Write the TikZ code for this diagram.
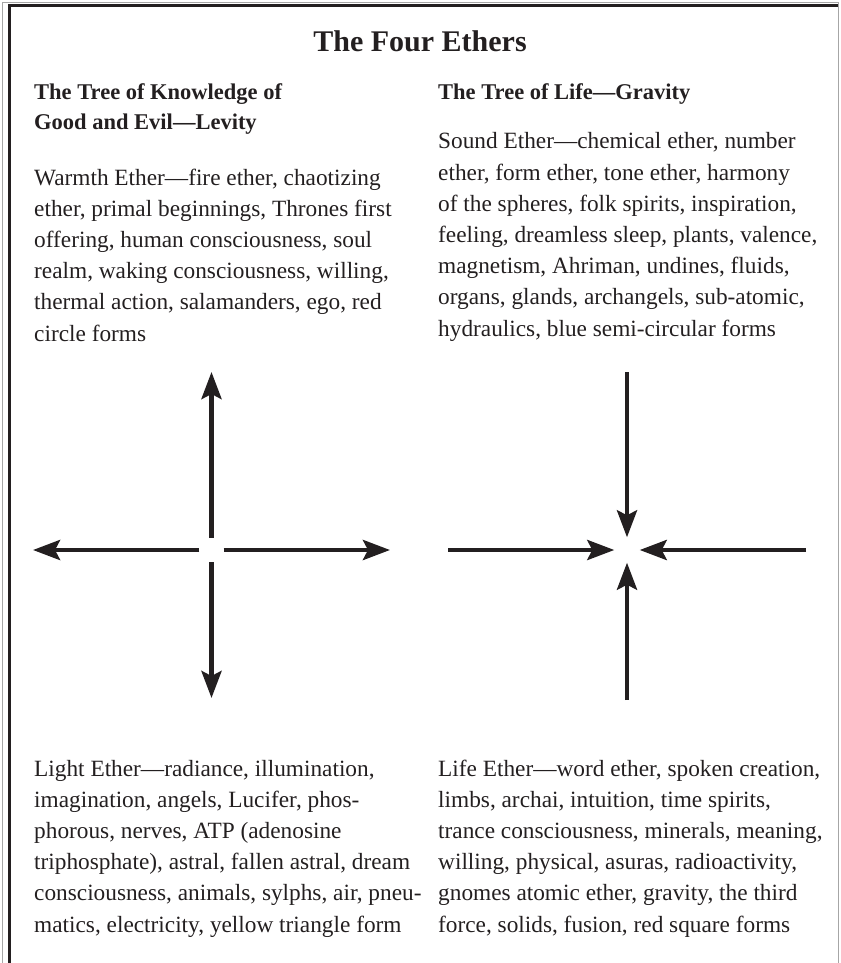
\documentclass[tikz,border=0pt]{standalone}
\usepackage{fontspec}
\setmainfont{Liberation Serif}
\usetikzlibrary{arrows.meta,positioning}
\definecolor{ink}{RGB}{35,31,32}

\begin{document}
\begin{tikzpicture}[x=1pt, y=-1pt,
  body/.style={anchor=base west, align=left, inner sep=0pt, text=ink,
    font=\fontsize{23.3}{31.2}\selectfont},
  head/.style={anchor=base west, align=left, inner sep=0pt, text=ink,
    font=\fontsize{22.5}{30}\selectfont\bfseries},
  hub/.style={inner sep=0pt, minimum size=24pt},
  ray/.style={draw=ink, line width=4.5pt,
    -{Stealth[length=27pt, width=20pt, inset=5pt]}}]

\useasboundingbox (0,0) rectangle (840,963);

% frame
\draw[gray!70, line width=0.8pt] (2,963) -- (2,2.5) -- (838,2.5) -- (838,963);
\draw[ink, line width=3pt] (9,963) -- (9,6) -- (838,6);

\node[anchor=base, inner sep=0pt, text=ink, font=\fontsize{30}{36}\selectfont\bfseries]
  (title) at (420,52) {The Four Ethers};

% multi-line nodes: base = baseline of the last line
\node[head] (levity)  at (34,130)  {The Tree of Knowledge of\\Good and Evil---Levity};
\node[head] (gravity) at (438,100) {The Tree of Life---Gravity};

\node[body] (warmth) at (34,341) {Warmth Ether---fire ether, chaotizing\\
  ether, primal beginnings, Thrones first\\
  offering, human consciousness, soul\\
  realm, waking consciousness, willing,\\
  thermal action, salamanders, ego, red\\
  circle forms};

\node[body] (sound) at (438,336) {Sound Ether---chemical ether, number\\
  ether, form ether, tone ether, harmony\\
  of the spheres, folk spirits, inspiration,\\
  feeling, dreamless sleep, plants, valence,\\
  magnetism, Ahriman, undines, fluids,\\
  organs, glands, archangels, sub-atomic,\\
  hydraulics, blue semi-circular forms};

\node[body] (light) at (34,932) {Light Ether---radiance, illumination,\\
  imagination, angels, Lucifer, phos-\\
  phorous, nerves, ATP (adenosine\\
  triphosphate), astral, fallen astral, dream\\
  consciousness, animals, sylphs, air, pneu-\\
  matics, electricity, yellow triangle form};

\node[body] (life) at (438,932) {Life Ether---word ether, spoken creation,\\
  limbs, archai, intuition, time spirits,\\
  trance consciousness, minerals, meaning,\\
  willing, physical, asuras, radioactivity,\\
  gnomes atomic ether, gravity, the third\\
  force, solids, fusion, red square forms};

% levity: arrows pointing out
\node[hub] (out) at (211.5,550) {};
\coordinate (outN) at (211.5,372);
\coordinate (outS) at (211.5,698);
\coordinate (outW) at (33,550);
\coordinate (outE) at (390,550);
\draw[ray] (out.north) -- (outN);
\draw[ray] (out.south) -- (outS);
\draw[ray] (out.west) -- (outW);
\draw[ray] (out.east) -- (outE);

% gravity: arrows pointing in
\node[hub, minimum size=25pt] (in) at (627,550) {};
\coordinate (inN) at (627,372);
\coordinate (inS) at (627,700);
\coordinate (inW) at (448,550);
\coordinate (inE) at (806,550);
\draw[ray] (inN) -- (in.north);
\draw[ray] (inS) -- (in.south);
\draw[ray] (inW) -- (in.west);
\draw[ray] (inE) -- (in.east);

\end{tikzpicture}
\end{document}
